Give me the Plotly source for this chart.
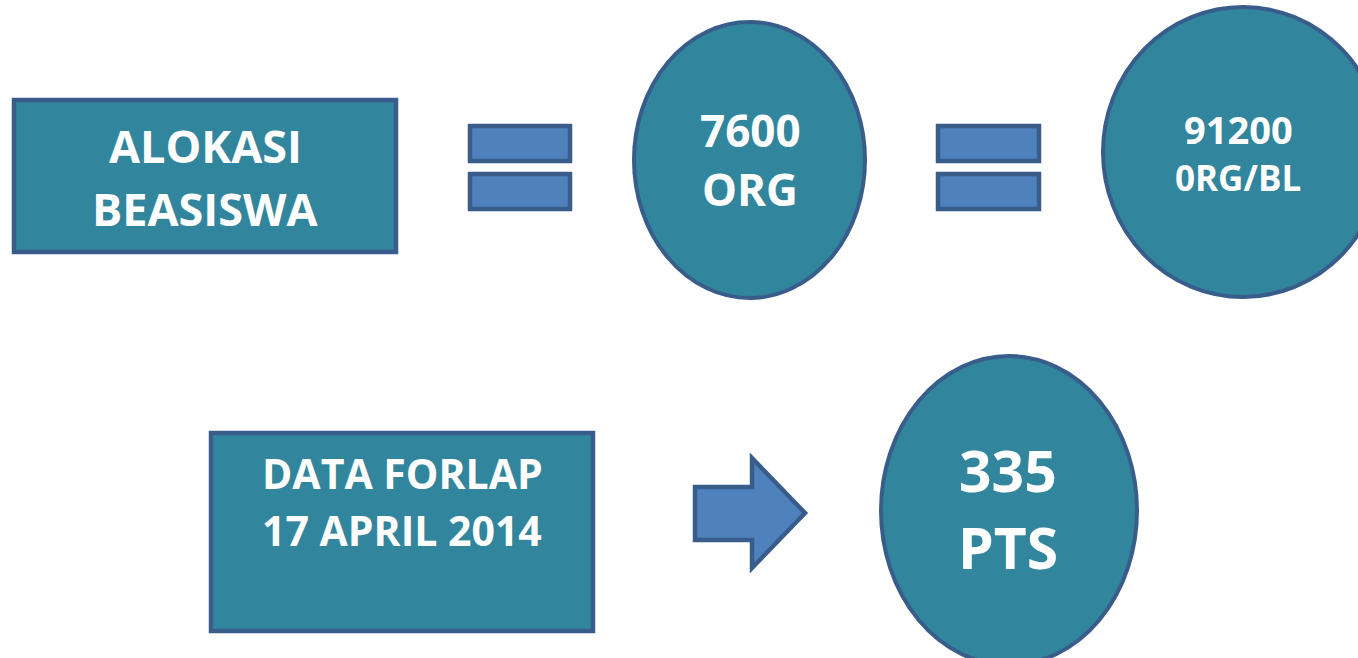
import plotly.graph_objects as go

W, H = 1358, 658

# Diagram content
box_labels = [["ALOKASI", "BEASISWA"], ["DATA FORLAP", "17 APRIL 2014"]]
oval_labels = [["7600", "ORG"], ["91200", "0RG/BL"], ["335", "PTS"]]

# geometry (pixels, y down)
boxes = [(14, 100, 396, 252), (211, 433, 593, 631)]
box_text_y = [[145, 208], [473, 530]]
box_text_size = [[45, 45], [41, 41]]

ovals = [(634, 22, 865, 298), (1103, 7, 1383, 297), (881, 356, 1137, 665)]
oval_text_y = [[130, 189], [129, 177], [470, 547]]
oval_text_x = [750, 1238, 1008]
oval_text_size = [[44, 44], [38, 35], [57, 57]]

eq_bars = [(470, 126, 570, 161), (470, 174, 570, 209),
           (938, 126, 1039, 161), (938, 174, 1039, 209)]

arrow = [(695, 487), (752, 487), (752, 458), (805, 513), (752, 568), (752, 540), (695, 540)]

TEAL = "#31859C"
EDGE = "#385D8A"
BLUE = "#4F81BD"
FONT = "Open Sans"

fig = go.Figure()
fig.add_trace(go.Scatter(x=[0, W], y=[0, H], mode="markers", marker=dict(opacity=0),
                         hoverinfo="skip", showlegend=False))

shapes = []
for (x0, y0, x1, y1) in boxes:
    shapes.append(dict(type="rect", x0=x0, y0=y0, x1=x1, y1=y1, xref="x", yref="y",
                       fillcolor=TEAL, line=dict(color=EDGE, width=4.5), layer="below"))
for (x0, y0, x1, y1) in ovals:
    shapes.append(dict(type="circle", x0=x0, y0=y0, x1=x1, y1=y1, xref="x", yref="y",
                       fillcolor=TEAL, line=dict(color=EDGE, width=4), layer="below"))
for (x0, y0, x1, y1) in eq_bars:
    shapes.append(dict(type="rect", x0=x0, y0=y0, x1=x1, y1=y1, xref="x", yref="y",
                       fillcolor=BLUE, line=dict(color=EDGE, width=4.5), layer="below"))
path = "M " + " L ".join(f"{px},{py}" for px, py in arrow) + " Z"
shapes.append(dict(type="path", path=path, xref="x", yref="y",
                   fillcolor=BLUE, line=dict(color=EDGE, width=4.5), layer="below"))

annotations = []
for i, lines in enumerate(box_labels):
    x0, y0, x1, y1 = boxes[i]
    for j, t in enumerate(lines):
        annotations.append(dict(x=(x0 + x1) / 2, y=box_text_y[i][j], text=f"<b>{t}</b>",
                                showarrow=False, xref="x", yref="y",
                                font=dict(family=FONT, size=box_text_size[i][j], color="white"),
                                xanchor="center", yanchor="middle"))
for i, lines in enumerate(oval_labels):
    for j, t in enumerate(lines):
        annotations.append(dict(x=oval_text_x[i], y=oval_text_y[i][j], text=f"<b>{t}</b>",
                                showarrow=False, xref="x", yref="y",
                                font=dict(family=FONT, size=oval_text_size[i][j], color="white"),
                                xanchor="center", yanchor="middle"))

fig.update_layout(
    width=W, height=H, margin=dict(l=0, r=0, t=0, b=0),
    paper_bgcolor="white", plot_bgcolor="white",
    xaxis=dict(range=[0, W], visible=False, fixedrange=True),
    yaxis=dict(range=[H, 0], visible=False, fixedrange=True),
    shapes=shapes, annotations=annotations, showlegend=False,
)
fig.write_html("out.html", config={"displayModeBar": False},
               post_script="document.body.style.margin='0';document.body.style.overflow='hidden';")
